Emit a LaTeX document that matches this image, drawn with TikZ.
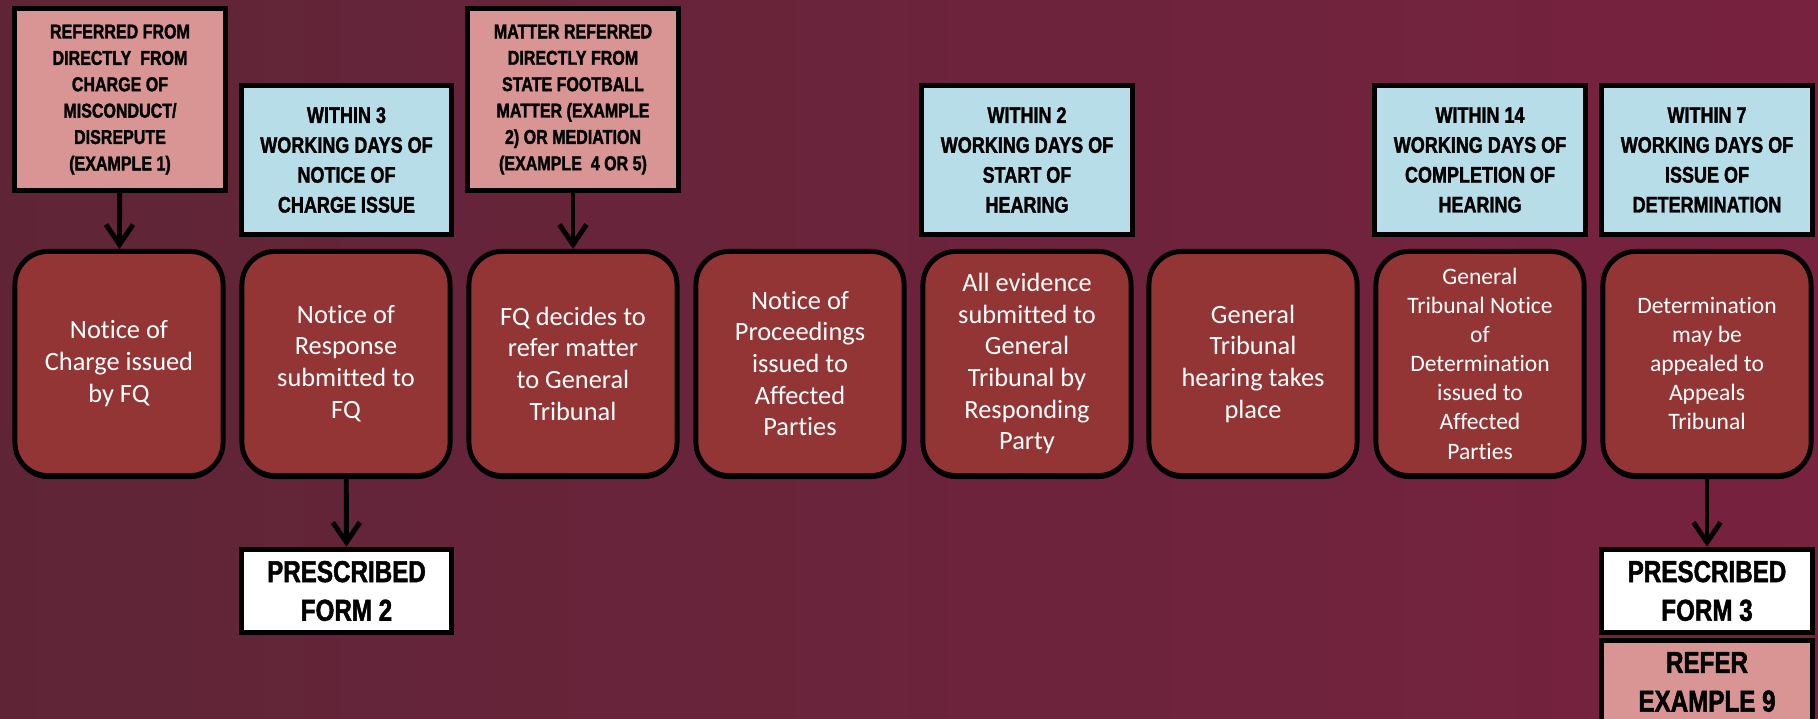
\documentclass[tikz,border=0pt]{standalone}
\usepackage{fontspec}
\setmainfont[RawFeature={-liga;-clig}]{Carlito}
\newfontfamily\condfont[FakeStretch=0.8,BoldFeatures={FakeBold=1.6}]{Liberation Sans}
\usetikzlibrary{arrows.meta,shadows}
\definecolor{bgleft}{HTML}{5F2537}
\definecolor{bgright}{HTML}{77223F}
\definecolor{stepred}{HTML}{943535}
\definecolor{srcpink}{HTML}{D99594}
\definecolor{timeblue}{HTML}{B7DDE8}
\begin{document}
\begin{tikzpicture}[x=0.01cm,y=-0.01cm,
  stepbox/.style={draw=black,line width=1.4pt,fill=stepred,rounded corners=0.33cm,
    minimum width=2.08cm,minimum height=2.24cm,align=center,text=white,
    font=\fontsize{7.5}{9}\selectfont,
    drop shadow={shadow xshift=0cm,shadow yshift=-0.035cm,opacity=1,fill=black}},
  smallstep/.style={stepbox,font=\fontsize{6.7}{8.3}\selectfont},
  srcbox/.style={draw=black,line width=1.4pt,fill=srcpink,minimum width=2.11cm,
    minimum height=1.82cm,align=center,font=\condfont\bfseries\fontsize{5.7}{7.5}\selectfont},
  timebox/.style={draw=black,line width=1.4pt,fill=timeblue,minimum width=2.1cm,
    minimum height=1.49cm,align=center,font=\condfont\bfseries\fontsize{6.4}{8.5}\selectfont},
  formbox/.style={draw=black,line width=1.4pt,fill=white,minimum width=2.1cm,
    minimum height=0.75cm,align=center,font=\condfont\bfseries\fontsize{8.6}{11}\selectfont},
  arr/.style={line width=1.4pt,-{Straight Barb[length=0.2cm,width=0.27cm]}}]
\useasboundingbox (0,0) rectangle (1818,719);
\clip (0,0) rectangle (1818,719);
\shade[left color=bgleft,right color=bgright] (0,0) rectangle (1818,719);
% steps
\node[stepbox] (charge) at (119,363.5) {Notice of\\Charge issued\\by FQ};
\node[stepbox] (response) at (346,363.5) {Notice of\\Response\\submitted to\\FQ};
\node[stepbox] (refer) at (573,363.5) {FQ decides to\\refer matter\\to General\\Tribunal};
\node[stepbox] (proceed) at (800,363.5) {Notice of\\Proceedings\\issued to\\Affected\\Parties};
\node[stepbox] (evidence) at (1027,363.5) {All evidence\\submitted to\\General\\Tribunal by\\Responding\\Party};
\node[stepbox] (hearing) at (1253,363.5) {General\\Tribunal\\hearing takes\\place};
\node[smallstep] (notice) at (1480,363.5) {General\\Tribunal Notice\\of\\Determination\\issued to\\Affected\\Parties};
\node[smallstep] (appeal) at (1707,363.5) {Determination\\may be\\appealed to\\Appeals\\Tribunal};
% sources and time limits
\node[srcbox] (src1) at (120,99.5) {REFERRED FROM\\DIRECTLY\ \ FROM\\CHARGE OF\\MISCONDUCT/\\DISREPUTE\\(EXAMPLE 1)};
\node[srcbox] (src2) at (573,99.5) {MATTER REFERRED\\DIRECTLY FROM\\STATE FOOTBALL\\MATTER (EXAMPLE\\2) OR MEDIATION\\(EXAMPLE\ \ 4 OR 5)};
\node[timebox] (win3) at (346.5,160) {WITHIN 3\\WORKING DAYS OF\\NOTICE OF\\CHARGE ISSUE};
\node[timebox] (win2) at (1027,160) {WITHIN 2\\WORKING DAYS OF\\START OF\\HEARING};
\node[timebox] (win14) at (1480,160) {WITHIN 14\\WORKING DAYS OF\\COMPLETION OF\\HEARING};
\node[timebox] (win7) at (1707,160) {WITHIN 7\\WORKING DAYS OF\\ISSUE OF\\DETERMINATION};
% forms
\node[formbox] (form2) at (346.5,591) {PRESCRIBED\\FORM 2};
\node[formbox] (form3) at (1707,591) {PRESCRIBED\\FORM 3};
\node[formbox,fill=srcpink] (ex9) at (1707,682) {REFER\\EXAMPLE 9};
\draw[arr] (src1) -- (charge);
\draw[arr] (src2) -- (refer);
\draw[arr] (response) -- (form2);
\draw[arr] (appeal) -- (form3);
\end{tikzpicture}
\end{document}
